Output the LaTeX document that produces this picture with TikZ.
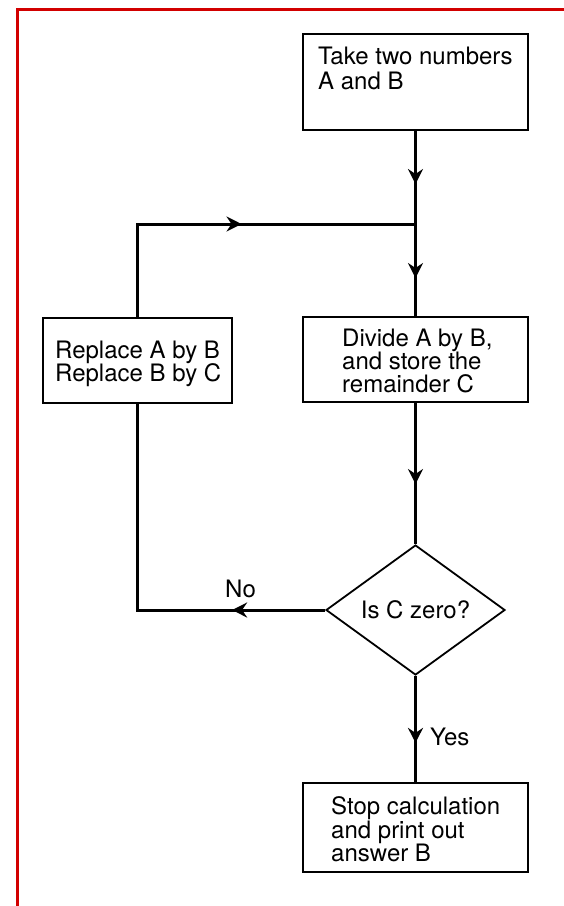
\documentclass[tikz,border=0pt]{standalone}
\usepackage{fontspec}
\setmainfont{TeX Gyre Heros}
\usetikzlibrary{arrows.meta,decorations.markings,shapes.geometric}
\definecolor{framered}{RGB}{210,0,0}
\tikzset{flowtip/.tip={Stealth[length=15pt,width=15pt,inset=5pt]}}
\begin{document}
\begin{tikzpicture}[x=1pt,y=-1pt,
  every node/.style={font=\fontsize{24}{24}\selectfont},
  box/.style={draw,line width=2pt,inner sep=0pt},
  dia/.style={draw,diamond,line width=1.8pt,inner sep=0pt,minimum width=179pt,minimum height=130pt},
  txt/.style={anchor=base west,inner sep=0pt},
  flow/.style={line width=3pt,postaction={decorate}},
  tipat/.style={decoration={markings,mark=at position #1 with {\arrow{flowtip}}}},
  twotips/.style 2 args={decoration={markings,
      mark=at position #1 with {\arrow{flowtip}},
      mark=at position #2 with {\arrow{flowtip}}}}
]
\useasboundingbox (0,0) rectangle (563,906);
\fill[white] (0,0) rectangle (563,906);
\draw[framered,line width=2.6pt] (17.5,910) -- (17.5,9.5) -- (566,9.5);

% boxes
\node[box,minimum width=225pt,minimum height=96pt] (take) at (415.5,82) {};
\node[box,minimum width=225pt,minimum height=85pt] (divide) at (415.5,359.5) {};
\node[box,minimum width=189pt,minimum height=85pt] (repl) at (137.5,360.5) {};
\node[dia] (dec) at (415.5,610) {Is C zero?};
\node[box,minimum width=225pt,minimum height=89pt] (stop) at (415.5,827.5) {};

% texts
\node[txt] (t1) at (318,64) {Take two numbers};
\node[txt] (t2) at (318,89) {A and B};
\node[txt] (r1) at (55,358) {Replace A by B};
\node[txt] (r2) at (55,381) {Replace B by C};
\node[txt] (d1) at (342,346) {Divide A by B,};
\node[txt] (d2) at (342,369) {and store the};
\node[txt] (d3) at (342,392) {remainder C};
\node[txt] (s1) at (331,814) {Stop calculation};
\node[txt] (s2) at (331,838) {and print out};
\node[txt] (s3) at (331,861) {answer B};
\node[txt] (no) at (225,597) {No};
\node[txt] (yes) at (430,745) {Yes};

% connectors
\coordinate (j) at (415.5,224);
\draw[flow,twotips={53pt}{147pt}] (take.south) -- (divide.north);
\draw[flow,tipat=81pt] (divide.south) -- (dec.north);
\draw[flow,tipat=67pt] (dec.south) -- (stop.north);
\draw[flow,tipat=93pt] (dec.west) -| (repl.south);
\draw[flow,tipat=197pt] (repl.north) |- (j);
\end{tikzpicture}
\end{document}
